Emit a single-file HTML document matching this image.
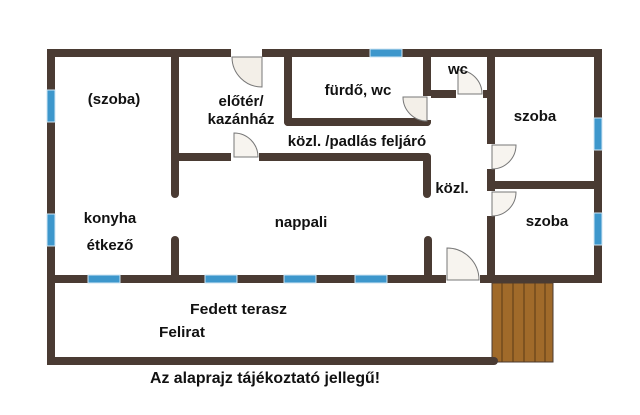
<!DOCTYPE html>
<html><head><meta charset="utf-8"><style>
html,body{margin:0;padding:0;background:#fff;width:640px;height:415px;overflow:hidden}
text{font-family:"Liberation Sans",Arial,sans-serif;font-weight:bold;font-size:15px;fill:#111}
</style></head><body>
<svg width="640" height="415" viewBox="0 0 640 415" xmlns="http://www.w3.org/2000/svg">
<rect x="492" y="283" width="61" height="79" fill="#a06a2a" stroke="#4a3b33" stroke-width="1"/>
<g stroke="#5a3a15" stroke-width="1">
<line x1="502" y1="283" x2="502" y2="362"/><line x1="513" y1="283" x2="513" y2="362"/>
<line x1="524" y1="283" x2="524" y2="362"/><line x1="535" y1="283" x2="535" y2="362"/>
<line x1="545" y1="283" x2="545" y2="362"/>
</g>
<g stroke="#4a3b33" stroke-width="8" stroke-linecap="round" fill="none">
<line x1="51" y1="53" x2="598" y2="53" stroke-linecap="square"/>
<line x1="51" y1="53" x2="51" y2="361" stroke-linecap="square"/>
<line x1="598" y1="53" x2="598" y2="279" stroke-linecap="square"/>
<line x1="51" y1="279" x2="598" y2="279" stroke-linecap="square"/>
<line x1="51" y1="361" x2="494" y2="361"/>
<line x1="175" y1="53" x2="175" y2="194"/>
<line x1="175" y1="240" x2="175" y2="279"/>
<line x1="175" y1="157" x2="427" y2="157"/>
<line x1="288" y1="53" x2="288" y2="122"/>
<line x1="288" y1="122" x2="427" y2="122"/>
<line x1="427" y1="53" x2="427" y2="122"/>
<line x1="427" y1="157" x2="427" y2="194"/>
<line x1="428" y1="240" x2="428" y2="279"/>
<line x1="427" y1="94" x2="491" y2="94"/>
<line x1="491" y1="53" x2="491" y2="279" stroke-linecap="square"/>
<line x1="491" y1="185" x2="598" y2="185" stroke-linecap="square"/>
</g>
<g fill="#3d97cc" stroke="#cfe6f3" stroke-width="1">
<rect x="370" y="49" width="32" height="8"/>
<rect x="47" y="90" width="8" height="32"/>
<rect x="47" y="214" width="8" height="32"/>
<rect x="594" y="118" width="8" height="32"/>
<rect x="594" y="213" width="8" height="32"/>
<rect x="88" y="275" width="32" height="8"/>
<rect x="205" y="275" width="32" height="8"/>
<rect x="284" y="275" width="32" height="8"/>
<rect x="355" y="275" width="32" height="8"/>
</g>
<g fill="#f7f4ef" stroke="#777" stroke-width="1">
<rect x="231" y="49" width="31" height="8" fill="#fff" stroke="none"/>
<path d="M232 57 L262 57 L262 87 A30 30 0 0 1 232 57 Z" fill="#f3efe8"/>
<rect x="231" y="153" width="28" height="8" fill="#fff" stroke="none"/>
<path d="M234 157 L234 133 A24 24 0 0 1 258 157 Z"/>
<rect x="423" y="96" width="8" height="24" fill="#fff" stroke="none"/>
<path d="M427 97 L427 121 A24 24 0 0 1 403 97 Z" fill="#f3efe8"/>
<rect x="456" y="90" width="27" height="8" fill="#fff" stroke="none"/>
<path d="M458 94 L458 70 A24 24 0 0 1 482 94 Z"/>
<rect x="487" y="144" width="8" height="25" fill="#fff" stroke="none"/>
<path d="M492 145 L516 145 A24 24 0 0 1 492 169 Z"/>
<rect x="487" y="191" width="8" height="25" fill="#fff" stroke="none"/>
<path d="M492 192 L516 192 A24 24 0 0 1 492 216 Z"/>
<rect x="446" y="275" width="34" height="8" fill="#fff" stroke="none"/>
<path d="M447 280 L447 248 A32 32 0 0 1 479 280 Z"/>
</g>
<text x="114" y="104" text-anchor="middle">(szoba)</text>
<text x="241" y="106" text-anchor="middle">előtér/</text>
<text x="241" y="124" text-anchor="middle">kazánház</text>
<text x="358" y="95" text-anchor="middle">fürdő, wc</text>
<text x="458" y="74" text-anchor="middle">wc</text>
<text x="535" y="121" text-anchor="middle">szoba</text>
<text x="357" y="146" text-anchor="middle">közl. /padlás feljáró</text>
<text x="452" y="193" text-anchor="middle">közl.</text>
<text x="110" y="223" text-anchor="middle">konyha</text>
<text x="110" y="250" text-anchor="middle">étkező</text>
<text x="301" y="227" text-anchor="middle">nappali</text>
<text x="547" y="226" text-anchor="middle">szoba</text>
<text x="190" y="314" textLength="97" lengthAdjust="spacingAndGlyphs">Fedett terasz</text>
<text x="159" y="337" textLength="46" lengthAdjust="spacingAndGlyphs">Felirat</text>
<text x="150" y="383" textLength="230" lengthAdjust="spacingAndGlyphs" style="font-size:16px">Az alaprajz tájékoztató jellegű!</text>
</svg>
</body></html>
